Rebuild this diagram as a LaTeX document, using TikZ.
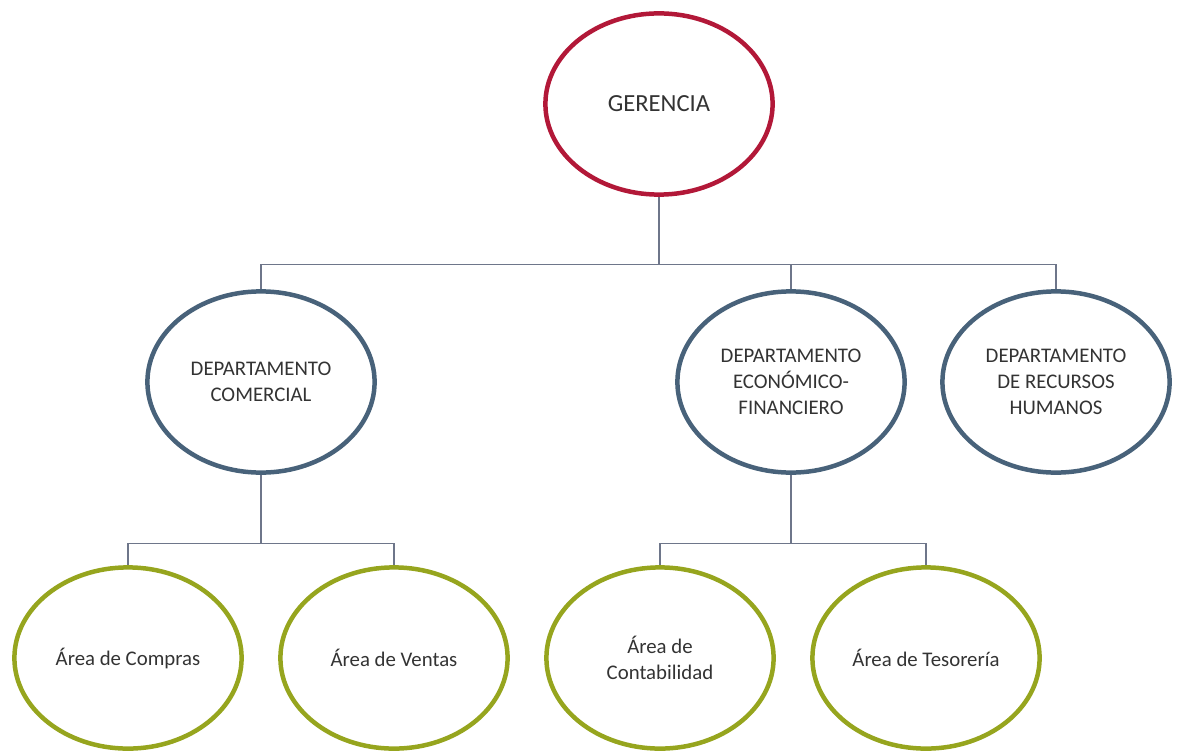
\documentclass[tikz,border=0pt]{standalone}
\usepackage{fontspec}
\setmainfont{Carlito}
\usepackage{xcolor}
\usepackage{tikz}
\usetikzlibrary{positioning,shapes.geometric}

\definecolor{gerred}{RGB}{178,24,56}
\definecolor{deptblue}{RGB}{72,98,122}
\definecolor{areagreen}{RGB}{150,165,30}
\definecolor{linkgray}{RGB}{110,118,138}

\begin{document}
\begin{tikzpicture}[
    on grid,
    unit/.style={ellipse, draw, line width=3.2pt, minimum width=5.68cm, minimum height=4.53cm, align=center, text=black!80, font=\fontsize{14.8}{18.5}\selectfont},
    top/.style={unit, draw=gerred, font=\fontsize{17.5}{18.5}\selectfont},
    dept/.style={unit, draw=deptblue},
    area/.style={unit, draw=areagreen},
    link/.style={draw=linkgray, line width=0.9pt}
]
\useasboundingbox (0,0) rectangle (29.45,-18.8);

% Management
\node[top] (ger) at (16.475,-2.6) {GERENCIA};

% Departments
\node[dept, below=6.95cm of ger, xshift=-9.95cm] (com) {DEPARTAMENTO\\COMERCIAL};
\node[dept, below=6.95cm of ger, xshift=3.3cm] (eco) {DEPARTAMENTO\\ECONÓMICO-\\FINANCIERO};
\node[dept, right=6.625cm of eco] (rrhh) {DEPARTAMENTO\\DE RECURSOS\\HUMANOS};

% Areas
\node[area, below=6.9cm of com, xshift=-3.325cm] (compras) {Área de Compras};
\node[area, right=6.65cm of compras] (ventas) {Área de Ventas};
\node[area, below=6.9cm of eco, xshift=-3.275cm] (conta) {Área de\\Contabilidad};
\node[area, right=6.65cm of conta] (teso) {Área de Tesorería};

% Bus points
\coordinate[below=1.7cm of ger.south] (gbus);
\coordinate[below=1.725cm of com.south] (cbus);
\coordinate[below=1.725cm of eco.south] (ebus);

% Links
\draw[link] (ger.south) -- (gbus);
\draw[link] (gbus) -| (com.north);
\draw[link] (gbus) -| (eco.north);
\draw[link] (gbus) -| (rrhh.north);
\draw[link] (com.south) -- (cbus);
\draw[link] (cbus) -| (compras.north);
\draw[link] (cbus) -| (ventas.north);
\draw[link] (eco.south) -- (ebus);
\draw[link] (ebus) -| (conta.north);
\draw[link] (ebus) -| (teso.north);

\end{tikzpicture}
\end{document}
